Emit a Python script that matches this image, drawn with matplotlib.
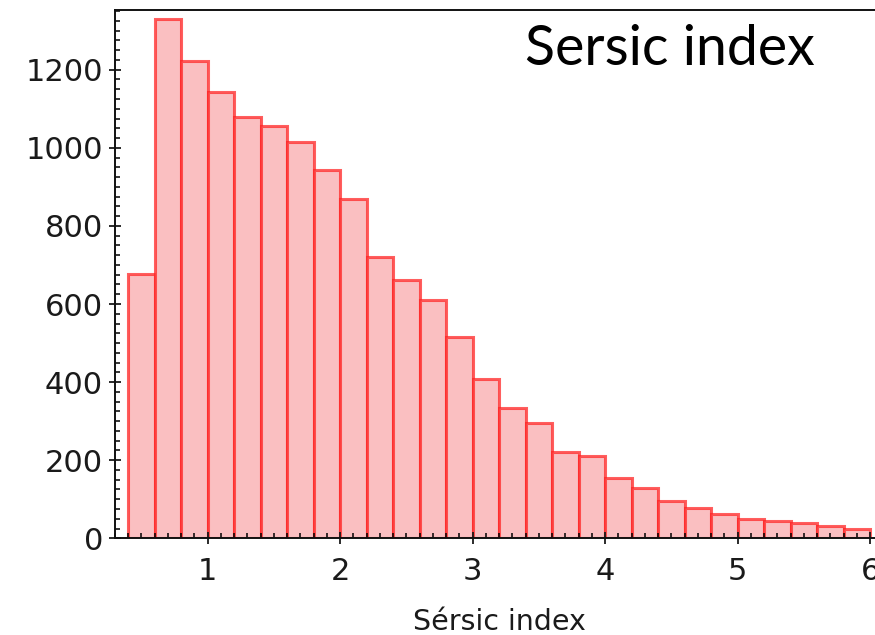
import matplotlib

matplotlib.use("Agg")
import matplotlib.pyplot as plt
import numpy as np
from matplotlib.ticker import MultipleLocator

# Sersic index histogram: bin edges and counts per bin (width 0.2)
bin_edges = np.round(np.arange(0.4, 6.0001, 0.2), 2)
counts = [677, 1330, 1222, 1143, 1080, 1055, 1016, 942, 870, 720,
          662, 611, 515, 407, 334, 296, 221, 212, 154, 128,
          96, 78, 61, 49, 45, 40, 31, 24]

x_label = "Sérsic index"
title_text = "Sersic index"

fig = plt.figure(figsize=(8.75, 6.35), dpi=100)
ax = fig.add_axes([0.1314, 0.1523, 0.8783, 0.832])

widths = np.diff(bin_edges)
ax.bar(bin_edges[:-1], counts, width=widths, align="edge",
       color="#fabfc1", edgecolor=(1.0, 0.13, 0.13, 0.72), linewidth=2.2)

ax.set_xlim(0.3, 6.1)
ax.set_ylim(0, 1353)
ax.xaxis.set_major_locator(MultipleLocator(1))
ax.xaxis.set_minor_locator(MultipleLocator(0.1))
ax.yaxis.set_major_locator(MultipleLocator(200))
ax.yaxis.set_minor_locator(MultipleLocator(25))

ax.tick_params(which="major", direction="inout", length=9, width=1.3,
               labelsize=22, pad=4, colors="#1a1a1a")
ax.tick_params(which="minor", direction="in", length=3.5, width=1.1)
ax.tick_params(axis="x", which="major", pad=9)
for spine in ax.spines.values():
    spine.set_linewidth(1.4)
    spine.set_color("#111111")

ax.set_xlabel(x_label, fontsize=20.5, color="#1a1a1a", labelpad=16)

fig.text(0.6, 0.922, title_text, fontsize=40, family="Lato",
         ha="left", va="center", color="black")

fig.savefig("out.png", dpi=100, facecolor="white")
